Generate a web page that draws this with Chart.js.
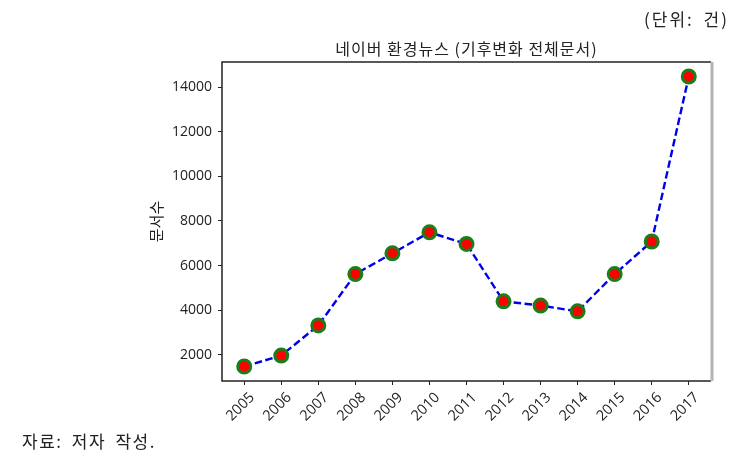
<!DOCTYPE html>
<html>
<head>
<meta charset="utf-8">
<script src="https://cdn.jsdelivr.net/npm/chart.js@4"></script>
<style>
  html, body { margin: 0; padding: 0; background: #fff; }
  #wrap { position: relative; width: 734px; height: 465px; }
  .note { position: absolute; font-family: "Noto Sans CJK KR", sans-serif; font-size: 17px; color: #222; white-space: pre; }
</style>
</head>
<body>
<div id="wrap">
  <canvas id="chart" width="734" height="465"></canvas>
  <div class="note" style="right: 5px; top: 6px; letter-spacing: 2px; word-spacing: 4px;">(단위: 건)</div>
  <div class="note" style="left: 22px; top: 428px; letter-spacing: 1.5px; word-spacing: 4px;">자료: 저자 작성.</div>
</div>
<script>
const years = [2005, 2006, 2007, 2008, 2009, 2010, 2011, 2012, 2013, 2014, 2015, 2016, 2017];
const docCounts = [1480, 1970, 3320, 5620, 6550, 7490, 6970, 4400, 4210, 3950, 5620, 7080, 14470];
const yTicks = [2000, 4000, 6000, 8000, 10000, 12000, 14000];
const chartTitle = '네이버 환경뉴스 (기후변화 전체문서)';
const yTitle = '문서수';

const font = '"Noto Sans CJK KR", sans-serif';
const tickFont = '"Open Sans", "Noto Sans CJK KR", sans-serif';

// frame + title drawn around the plot area
const framePlugin = {
    id: 'frame',
    afterDraw(chart) {
        const a = chart.chartArea;
        const ctx = chart.ctx;
        ctx.save();
        ctx.strokeStyle = '#222';
        ctx.lineWidth = 1.5;
        ctx.beginPath();
        ctx.moveTo(a.right, a.top);
        ctx.lineTo(a.left, a.top);
        ctx.lineTo(a.left, a.bottom);
        ctx.lineTo(a.right, a.bottom);
        ctx.stroke();
        ctx.strokeStyle = '#b4b4b4';
        ctx.lineWidth = 3;
        ctx.beginPath();
        ctx.moveTo(a.right + 1, a.top);
        ctx.lineTo(a.right + 1, a.bottom);
        ctx.stroke();
        ctx.fillStyle = '#222';
        ctx.font = '16px ' + font;
        ctx.letterSpacing = '1px';
        ctx.textAlign = 'center';
        ctx.textBaseline = 'middle';
        ctx.fillText(chartTitle, (a.left + a.right) / 2, a.top - 13);
        ctx.restore();
    }
};

const ctx = document.getElementById('chart').getContext('2d');
new Chart(ctx, {
    type: 'line',
    data: {
        datasets: [{
            data: years.map((y, i) => ({ x: y, y: docCounts[i] })),
            borderColor: '#0000e8',
            borderWidth: 2.4,
            borderDash: [7.5, 3.5],
            pointBackgroundColor: '#ff0000',
            pointBorderColor: '#1a7f1a',
            pointBorderWidth: 3,
            pointRadius: 6.5,
            tension: 0,
            fill: false
        }]
    },
    options: {
        responsive: false,
        animation: false,
        clip: false,
        layout: { padding: { left: 147, right: 23, top: 62, bottom: 34 } },
        plugins: { legend: { display: false }, tooltip: { enabled: false } },
        scales: {
            x: {
                type: 'linear',
                min: 2004.4,
                max: 2017.6,
                afterBuildTicks: s => { s.ticks = years.map(v => ({ value: v })); },
                afterFit: s => { s.height = 50; },
                grid: { drawOnChartArea: false, drawTicks: true, tickLength: 4, color: '#222' },
                border: { display: false },
                ticks: {
                    minRotation: 45, maxRotation: 45,
                    color: '#222',
                    padding: 4,
                    labelOffset: 8,
                    font: { family: tickFont, size: 14.5 },
                    callback: v => String(v)
                }
            },
            y: {
                min: 830,
                max: 15120,
                afterBuildTicks: s => { s.ticks = yTicks.map(v => ({ value: v })); },
                afterFit: s => { s.width = 75; },
                grid: { drawOnChartArea: false, drawTicks: true, tickLength: 4, color: '#222' },
                border: { display: false },
                title: { display: true, text: yTitle, color: '#222', font: { family: font, size: 15 }, padding: 0 },
                ticks: {
                    color: '#222',
                    padding: 6,
                    font: { family: tickFont, size: 14 },
                    callback: v => String(v)
                }
            }
        }
    },
    plugins: [framePlugin]
});
</script>
</body>
</html>
